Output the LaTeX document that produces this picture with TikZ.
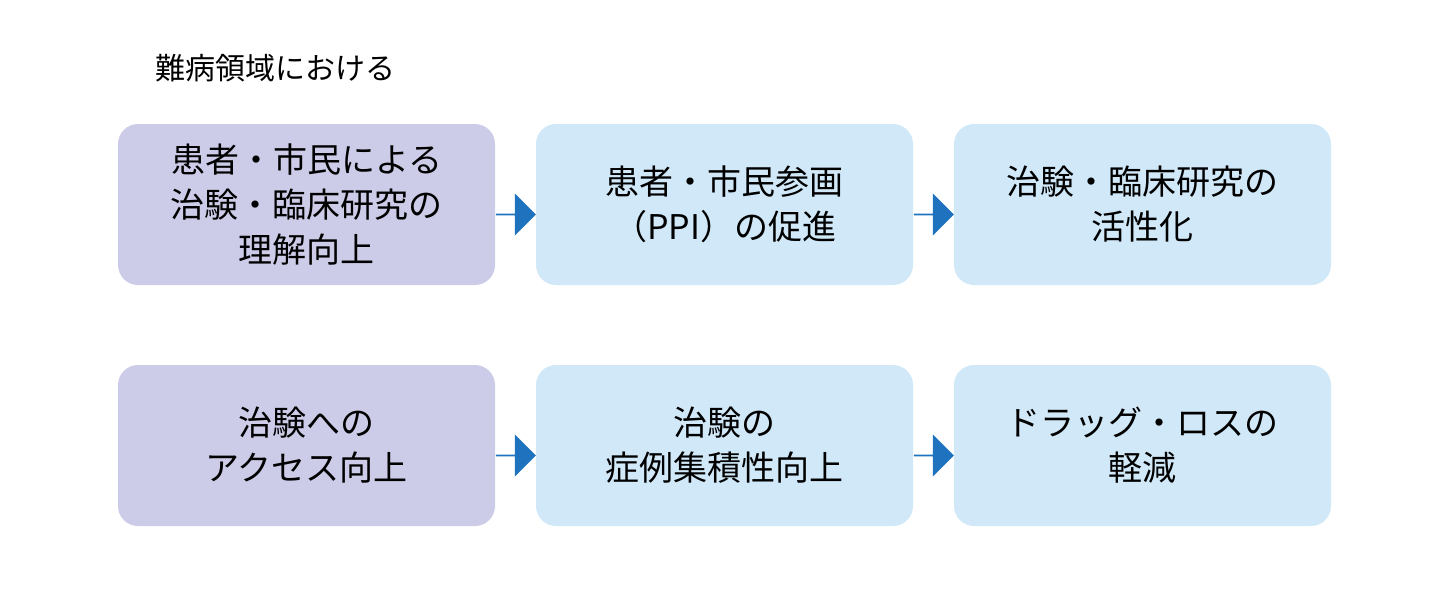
\documentclass[tikz,border=0pt]{standalone}
\usepackage{fontspec}
\setmainfont{Noto Sans CJK JP}
\usetikzlibrary{shapes.arrows,calc}
\definecolor{purp}{HTML}{CCCCE8}
\definecolor{lblue}{HTML}{D0E8F8}
\definecolor{arrb}{HTML}{1F73BE}
\tikzset{
 box/.style={rounded corners=10pt,minimum width=188.5pt,minimum height=80.5pt,align=center,font=\fontsize{17}{22.5}\selectfont,inner sep=0pt},
 pbox/.style={box,fill=purp},
 bbox/.style={box,fill=lblue},
 arr/.style={single arrow,fill=arrb,draw=none,minimum height=20pt,minimum width=21pt,single arrow head extend=5pt,inner sep=0pt}
}
\begin{document}
\begin{tikzpicture}[x=0.5pt,y=-0.5pt]
\useasboundingbox (0,0) rectangle (1440,600);
\node[anchor=west,font=\fontsize{15}{18}\selectfont] (t) at (148,68) {難病領域における};
\node[pbox] (a1) at (306.5,204.5) {患者・市民による\\治験・臨床研究の\\理解向上};
\node[bbox] (a2) at (724.5,204.5) {患者・市民参画\\（PPI）の促進};
\node[bbox] (a3) at (1142.5,204.5) {治験・臨床研究の\\活性化};
\node[pbox] (b1) at (306.5,445.5) {治験への\\アクセス向上};
\node[bbox] (b2) at (724.5,445.5) {治験の\\症例集積性向上};
\node[bbox] (b3) at (1142.5,445.5) {ドラッグ・ロスの\\軽減};
\node[arr] (r1) at ($(a1.east)!0.5!(a2.west)+(0,10)$) {};
\node[arr] (r2) at ($(a2.east)!0.5!(a3.west)+(0,10)$) {};
\node[arr] (r3) at ($(b1.east)!0.5!(b2.west)+(0,10)$) {};
\node[arr] (r4) at ($(b2.east)!0.5!(b3.west)+(0,10)$) {};
\end{tikzpicture}
\end{document}
